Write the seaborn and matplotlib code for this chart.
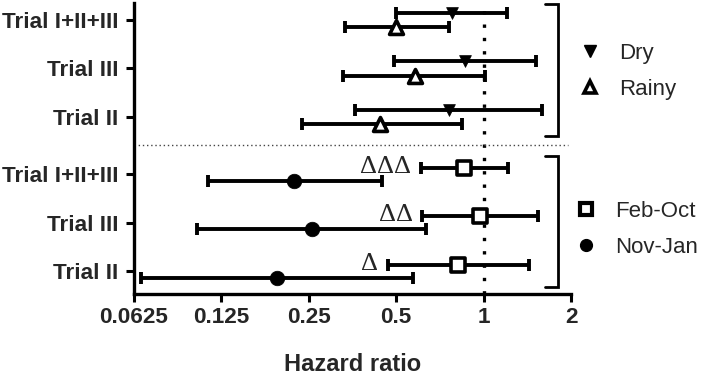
import matplotlib
matplotlib.use("Agg")
import matplotlib.pyplot as plt
from matplotlib.lines import Line2D
import seaborn as sns
import pandas as pd

sns.set_theme(style="ticks")
plt.rcParams['font.family'] = ['Liberation Sans', 'DejaVu Sans']

# ---- data ----
trials = ["Trial II", "Trial III", "Trial I+II+III"]

dry_hr = [0.76, 0.86, 0.78]
dry_lo = [0.36, 0.49, 0.50]
dry_hi = [1.59, 1.51, 1.20]

rainy_hr = [0.44, 0.58, 0.50]
rainy_lo = [0.236, 0.327, 0.333]
rainy_hi = [0.845, 1.01, 0.76]

febo_hr = [0.814, 0.972, 0.858]
febo_lo = [0.467, 0.615, 0.609]
febo_hi = [1.43, 1.54, 1.217]

novj_hr = [0.195, 0.256, 0.222]
novj_lo = [0.066, 0.103, 0.112]
novj_hi = [0.573, 0.633, 0.448]

sig_labels = ["Δ", "ΔΔ", "ΔΔΔ"]

xticks = [0.0625, 0.125, 0.25, 0.5, 1, 2]
xtick_labels = ["0.0625", "0.125", "0.25", "0.5", "1", "2"]

# ---- layout positions ----
pos_bottom = [1.0, 2.0, 3.0]
pos_top = [4.18, 5.18, 6.18]
off_top = 0.15
off_bot = 0.13

fig = plt.figure(figsize=(7.09, 3.78), dpi=100)
ax = fig.add_axes([0.189, 0.2222, 0.6164, 0.7698])

series = [
    ("Dry", dry_hr, dry_lo, dry_hi, [p + off_top for p in pos_top], "v", "black", 8.5),
    ("Rainy", rainy_hr, rainy_lo, rainy_hi, [p - off_top for p in pos_top], "^", "white", 10),
    ("Feb-Oct", febo_hr, febo_lo, febo_hi, [p + off_bot for p in pos_bottom], "s", "white", 10),
    ("Nov-Jan", novj_hr, novj_lo, novj_hi, [p - off_bot for p in pos_bottom], "o", "black", 10.5),
]

lw = 2.8
for name, hr, lo, hi, ys, mk, fc, ms in series:
    df = pd.DataFrame({"trial": trials, "hr": hr, "lo": lo, "hi": hi, "y": ys})
    ax.errorbar(df["hr"], df["y"],
                xerr=[df["hr"] - df["lo"], df["hi"] - df["hr"]],
                fmt="none", ecolor="black", elinewidth=lw, capsize=4.5,
                capthick=lw, zorder=2)
    sns.scatterplot(data=df, x="hr", y="y", marker=mk, s=ms ** 2,
                    color=fc, edgecolor="black",
                    linewidth=2.6 if fc == "white" else 0.5,
                    ax=ax, zorder=3, legend=False)

# significance labels
for lab, lo, y in zip(sig_labels, febo_lo, [p + off_bot for p in pos_bottom]):
    ax.annotate(lab, xy=(lo, y), xytext=(-7, 1), textcoords="offset points",
                ha="right", va="center", fontsize=19, family="Liberation Serif")

# reference line and divider
ax.axvline(1, color="black", linestyle=(0, (1, 3.0)), linewidth=2.4, zorder=1)
ax.plot([0.0625, 1.95], [3.6, 3.6], color="#444444", linestyle=(0, (1, 2)),
        linewidth=1.0, zorder=1, clip_on=False)

# brackets
bx0, bx1 = 1.63, 1.80
for y0, y1 in [(3.78, 6.50), (0.67, 3.37)]:
    ax.plot([bx0, bx1, bx1, bx0], [y1, y1, y0, y0], color="black",
            linewidth=2.0, clip_on=False, solid_joinstyle="miter")

ax.set_xscale("log", base=2)
ax.set_xlim(0.0625, 2)
ax.set_ylim(0.53, 6.53)
ax.set_xticks(xticks)
ax.set_xticklabels(xtick_labels)
ax.minorticks_off()
ax.set_yticks(pos_bottom + pos_top)
ax.set_yticklabels(trials + trials)
ax.set_xlabel("Hazard ratio", fontsize=17, fontweight="bold", labelpad=18)
ax.set_ylabel("")
for lbl in ax.get_xticklabels() + ax.get_yticklabels():
    lbl.set_fontweight("bold")
    lbl.set_fontsize(16.2)
ax.tick_params(axis="x", direction="out", length=6, width=2.2, color="black", pad=3)
ax.tick_params(axis="y", direction="out", length=6, width=2.2, color="black", pad=5)
sns.despine(ax=ax)
for sp in ["left", "bottom"]:
    ax.spines[sp].set_linewidth(2.4)
    ax.spines[sp].set_color("black")

# legends
h_top = [
    Line2D([], [], marker="v", color="black", linestyle="none", markersize=8),
    Line2D([], [], marker="^", markerfacecolor="white", markeredgecolor="black",
           markeredgewidth=2.6, linestyle="none", markersize=9),
]
h_bot = [
    Line2D([], [], marker="s", markerfacecolor="white", markeredgecolor="black",
           markeredgewidth=3.0, linestyle="none", markersize=8.5),
    Line2D([], [], marker="o", color="black", linestyle="none", markersize=8.5),
]
leg1 = ax.legend(h_top, ["Dry", "Rainy"], loc="center left",
                 bbox_to_anchor=(0.993, 0.766), frameon=False, fontsize=16,
                 handletextpad=0.7, labelspacing=0.68, handlelength=1.2,
                 borderaxespad=0)
ax.add_artist(leg1)
ax.legend(h_bot, ["Feb-Oct", "Nov-Jan"], loc="center left",
          bbox_to_anchor=(0.983, 0.222), frameon=False, fontsize=16,
          handletextpad=0.7, labelspacing=0.68, handlelength=1.2,
          borderaxespad=0)

fig.savefig("out.png", dpi=100)
